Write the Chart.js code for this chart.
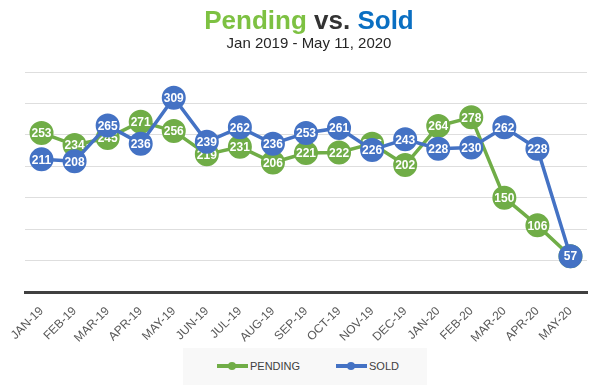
<!DOCTYPE html>
<html>
<head>
<meta charset="utf-8">
<script src="https://cdn.jsdelivr.net/npm/chart.js@4.4.1/dist/chart.umd.min.js"></script>
<style>
  html, body { margin: 0; padding: 0; background: #fff; }
  #wrap { position: relative; width: 600px; height: 385px; overflow: hidden; font-family: 'Liberation Sans', Arial, sans-serif; }
  #chart { position: absolute; left: 0; top: 0; }
  .title { position: absolute; left: 0; width: 618px; text-align: center; white-space: nowrap; }
  #t1 { top: 7px; font-size: 26px; line-height: 26px; font-weight: bold; color: #333; }
  #t2 { top: 35px; font-size: 15px; line-height: 15px; color: #262626; }
  #legend { position: absolute; left: 183px; top: 348px; width: 244px; height: 37px; background: #f8f8f8; }
  .item { position: absolute; top: 10px; height: 16px; font-size: 11px; line-height: 16px; color: #404040; }
  .mark { position: absolute; left: 0; top: 6px; width: 31px; height: 4px; }
  .dot { position: absolute; left: 11px; top: -2px; width: 8px; height: 8px; border-radius: 50%; }
  .item span { position: absolute; left: 33px; top: 0; }
</style>
</head>
<body>
<div id="wrap">
  <canvas id="chart" width="600" height="385"></canvas>
  <div class="title" id="t1"><span style="color:#7dc142">Pending</span> vs. <span style="color:#0a6fc2">Sold</span></div>
  <div class="title" id="t2">Jan 2019 - May 11, 2020</div>
  <div id="legend">
    <div class="item" style="left:34px"><div class="mark" style="background:#70ad47"><div class="dot" style="background:#70ad47"></div></div><span>PENDING</span></div>
    <div class="item" style="left:153px"><div class="mark" style="background:#4472c4"><div class="dot" style="background:#4472c4"></div></div><span>SOLD</span></div>
  </div>
</div>
<script>
const months = ['JAN-19', 'FEB-19', 'MAR-19', 'APR-19', 'MAY-19', 'JUN-19', 'JUL-19', 'AUG-19', 'SEP-19',
  'OCT-19', 'NOV-19', 'DEC-19', 'JAN-20', 'FEB-20', 'MAR-20', 'APR-20', 'MAY-20'];
const pending = [253, 234, 245, 271, 256, 219, 231, 206, 221, 222, 236, 202, 264, 278, 150, 106, 57];
const sold = [211, 208, 265, 236, 309, 239, 262, 236, 253, 261, 226, 243, 228, 230, 262, 228, 57];

const GREEN = '#70ad47';
const BLUE = '#4472c4';

// white numbers inside each circle, drawn right after its own dataset
const pointLabels = {
  id: 'pointLabels',
  afterDatasetDraw(chart, args) {
    const ctx = chart.ctx;
    const values = chart.data.datasets[args.index].data;
    ctx.save();
    ctx.font = 'bold 12px "Liberation Sans", Arial, sans-serif';
    ctx.fillStyle = '#ffffff';
    ctx.textAlign = 'center';
    ctx.textBaseline = 'middle';
    args.meta.data.forEach((pt, i) => {
      ctx.fillText(String(values[i]), pt.x, pt.y + 1);
    });
    ctx.restore();
  }
};

new Chart(document.getElementById('chart').getContext('2d'), {
  type: 'line',
  data: {
    labels: months,
    datasets: [
      {
        label: 'PENDING', data: pending, order: 2,
        borderColor: GREEN, backgroundColor: GREEN, borderWidth: 3.5,
        pointRadius: 11, pointBorderWidth: 2, pointBackgroundColor: GREEN, pointBorderColor: GREEN,
        tension: 0
      },
      {
        label: 'SOLD', data: sold, order: 1,
        borderColor: BLUE, backgroundColor: BLUE, borderWidth: 3.5,
        pointRadius: 11, pointBorderWidth: 2, pointBackgroundColor: BLUE, pointBorderColor: BLUE,
        tension: 0
      }
    ]
  },
  options: {
    responsive: false,
    animation: false,
    layout: { padding: { top: 72, right: 0, bottom: 0, left: 0 } },
    plugins: { legend: { display: false }, title: { display: false }, tooltip: { enabled: false } },
    scales: {
      x: {
        offset: true,
        grid: { display: false },
        border: { display: true, color: '#404040', width: 3 },
        ticks: {
          autoSkip: false, minRotation: 45, maxRotation: 45, padding: 4,
          color: '#595959', font: { family: '"Liberation Sans", Arial, sans-serif', size: 12 }
        },
        afterFit: s => { s.height = 93; }
      },
      y: {
        min: 0, max: 350,
        ticks: { stepSize: 50, display: false },
        grid: { color: '#dedede', lineWidth: 1, drawTicks: false },
        border: { display: false },
        afterFit: s => { s.width = 25; }
      }
    }
  },
  plugins: [pointLabels]
});
</script>
</body>
</html>
